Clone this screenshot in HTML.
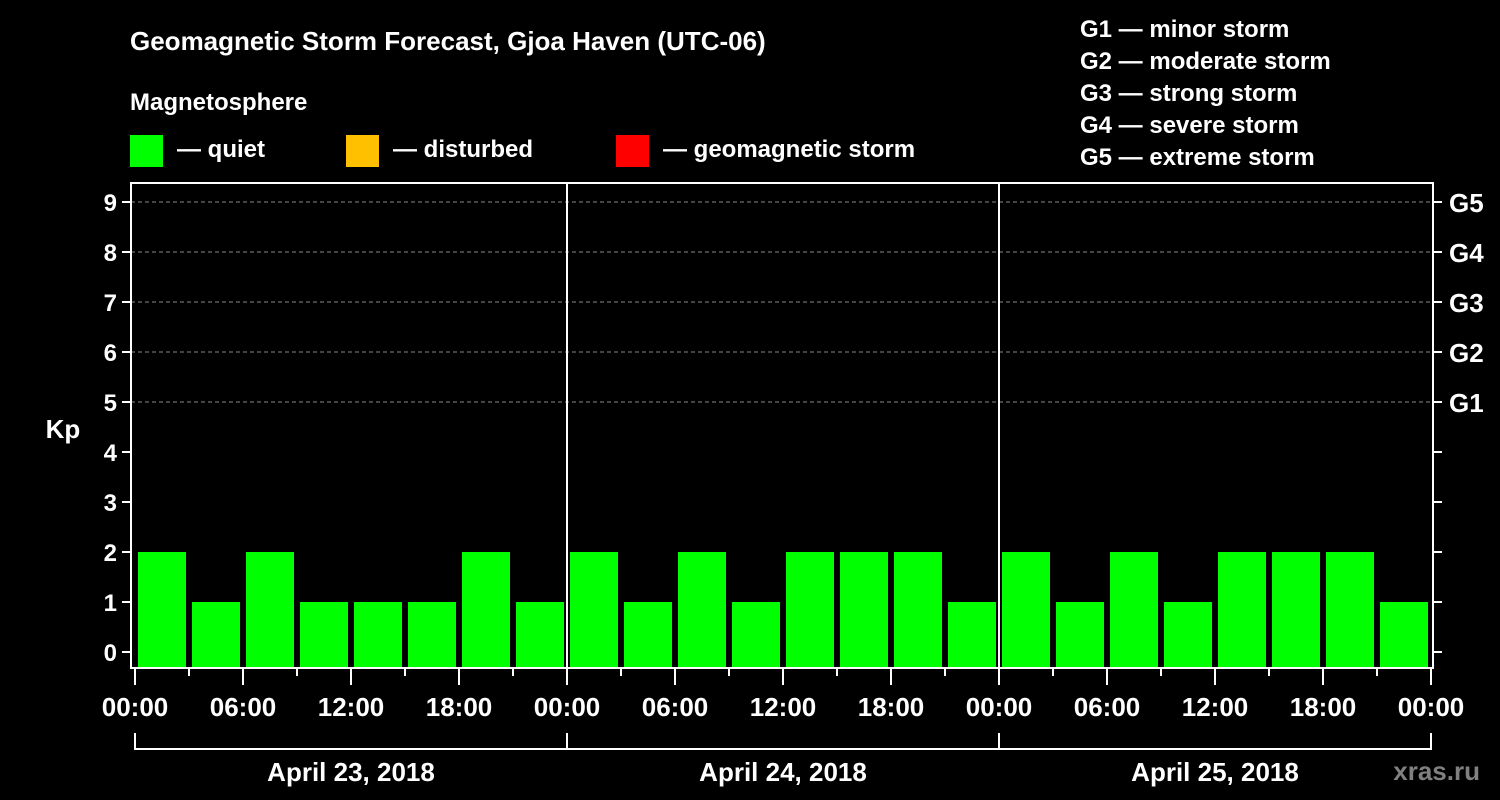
<!DOCTYPE html>
<html><head><meta charset="utf-8"><style>
html,body{margin:0;padding:0;background:#000;}
svg{display:block;font-family:"Liberation Sans",Arial,sans-serif;font-weight:bold;}
</style></head><body>
<svg id="chart" width="1500" height="800" viewBox="0 0 1500 800" xmlns="http://www.w3.org/2000/svg">
<rect width="1500" height="800" fill="#000"/>
<text x="130" y="50" fill="#fff" font-size="26">Geomagnetic Storm Forecast, Gjoa Haven (UTC-06)</text>
<text x="130" y="110" fill="#fff" font-size="24">Magnetosphere</text>
<g><rect x="130" y="135" width="33" height="32" fill="#00ff00"/><text x="177" y="157" fill="#fff" font-size="24">— quiet</text></g>
<g><rect x="346" y="135" width="33" height="32" fill="#ffc000"/><text x="393" y="157" fill="#fff" font-size="24">— disturbed</text></g>
<g><rect x="616" y="135" width="33" height="32" fill="#ff0000"/><text x="663" y="157" fill="#fff" font-size="24">— geomagnetic storm</text></g>
<g fill="#fff" font-size="24">
<text x="1080" y="37">G1 — minor storm</text>
<text x="1080" y="69">G2 — moderate storm</text>
<text x="1080" y="101">G3 — strong storm</text>
<text x="1080" y="133">G4 — severe storm</text>
<text x="1080" y="165">G5 — extreme storm</text>
</g>
<text x="63" y="438" fill="#fff" font-size="26" text-anchor="middle">Kp</text>
<g id="grid"></g><g id="bars"></g><g id="axes"></g>
<text x="1480" y="780" fill="#808080" font-size="26" text-anchor="end">xras.ru</text>
</svg>
<script>
const kpValues=[2,1,2,1,1,1,2,1, 2,1,2,1,2,2,2,1, 2,1,2,1,2,2,2,1];
const dayLabels=["April 23, 2018","April 24, 2018","April 25, 2018"];
const hourLabels=["00:00","06:00","12:00","18:00"];
const gLabels=["G1","G2","G3","G4","G5"];
const yTicks=[0,1,2,3,4,5,6,7,8,9];

const NS="http://www.w3.org/2000/svg";
const X0=135,PX_PER_HOUR=18,Y0=652,PX_PER_KP=50,PLOT_L=131,PLOT_R=1433,PLOT_T=183,PLOT_B=668;
function xs(h){return X0+h*PX_PER_HOUR;}
function ys(k){return Y0-k*PX_PER_KP;}
function mk(tag,attrs,parent,text){const e=document.createElementNS(NS,tag);for(const k in attrs)e.setAttribute(k,attrs[k]);if(text!==undefined)e.textContent=text;parent.appendChild(e);return e;}
function color(k){return k>=5?"#ff0000":(k>=4?"#ffc000":"#00ff00");}
const grid=document.getElementById("grid"),bars=document.getElementById("bars"),axes=document.getElementById("axes");

yTicks.forEach(k=>{
  if(k>=5){const l=mk("line",{x1:PLOT_L,x2:PLOT_R,y1:ys(k),y2:ys(k),stroke:"#888","stroke-dasharray":"4,3","stroke-width":1},grid);
  
  }
  const t=mk("line",{x1:PLOT_L-9,x2:PLOT_L,y1:ys(k),y2:ys(k),stroke:"#fff","stroke-width":2},axes);
  
  
  const r=mk("line",{x1:PLOT_R,x2:PLOT_R+9,y1:ys(k),y2:ys(k),stroke:"#fff","stroke-width":2},axes);
  
  
  const lb=mk("text",{x:PLOT_L-14,y:ys(k)+9,fill:"#fff","font-size":24,"text-anchor":"end"},axes,String(k));
  
  
  if(k>=5){const g=mk("text",{x:1449,y:ys(k)+10,fill:"#fff","font-size":26},axes,gLabels[k-5]);
  
  }
});

kpValues.forEach((v,i)=>{
  const x=xs(i*3)+3,w=xs(3)-xs(0)-6;
  const b=mk("rect",{x:x,y:ys(v),width:w,height:PLOT_B-1-ys(v),fill:color(v)},bars);
  
  
});

const frame=mk("rect",{x:PLOT_L,y:PLOT_T,width:PLOT_R-PLOT_L,height:PLOT_B-PLOT_T,fill:"none",stroke:"#fff","stroke-width":2},axes);



for(let d=1;d<dayLabels.length;d++){
  const s=mk("line",{x1:xs(d*24),x2:xs(d*24),y1:PLOT_T,y2:PLOT_B,stroke:"#fff","stroke-width":2},axes);
  
  
}
for(let h=0;h<=dayLabels.length*24;h+=3){
  const major=h%6===0;
  const t=mk("line",{x1:xs(h),x2:xs(h),y1:PLOT_B,y2:PLOT_B+(major?17:8),stroke:"#fff","stroke-width":2},axes);
  
  
  if(major){
    const lb=mk("text",{x:xs(h),y:716,fill:"#fff","font-size":26,"text-anchor":"middle"},axes,hourLabels[(h%24)/6]);
    
    
  }
}
const br=mk("path",{d:"M"+xs(0)+" 733 V749 H"+xs(dayLabels.length*24)+" V733",fill:"none",stroke:"#fff","stroke-width":2},axes);


dayLabels.forEach((d,i)=>{
  if(i>0){const s=mk("line",{x1:xs(i*24),x2:xs(i*24),y1:733,y2:749,stroke:"#fff","stroke-width":2},axes);
  
  }
  const t=mk("text",{x:xs(i*24+12),y:781,fill:"#fff","font-size":26,"text-anchor":"middle"},axes,d);
  
  
});
</script>
</body></html>
